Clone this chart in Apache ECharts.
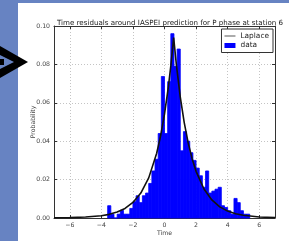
<!DOCTYPE html>
<html>
<head>
<meta charset="utf-8">
<script src="https://cdn.jsdelivr.net/npm/echarts@6/dist/echarts.min.js"></script>
<style>
  html, body { margin: 0; padding: 0; background: #fff; }
  #chart { width: 289px; height: 241px; }
</style>
</head>
<body>
<div id="chart"></div>
<script>
// histogram bins (width 0.2, first bin starts at -3.6)
const binStart = -3.6;
const binWidth = 0.2;
const binValues = [
  0.0064, 0.002, 0.0, 0.002, 0.004, 0.002, 0.002, 0.005, 0.0085, 0.0116,
  0.008, 0.0116, 0.013, 0.018, 0.0245, 0.0306, 0.044, 0.0737, 0.044, 0.071,
  0.096, 0.079, 0.088, 0.035, 0.045, 0.04, 0.034, 0.03, 0.026, 0.022,
  0.016, 0.0245, 0.013, 0.014, 0.015, 0.016, 0.0064, 0.0055, 0.0038, 0.002,
  0.0102, 0.008, 0.0038, 0.002, 0.002
];

// Laplace curve
const curveX = [-7, -6, -5, -4, -3.5, -3, -2.5, -2, -1.5, -1, -0.5, -0.25, 0, 0.25, 0.4, 0.58,
  0.75, 1, 1.25, 1.5, 1.75, 2, 2.5, 3, 3.5, 4, 4.5, 5, 6, 7];
const curveY = [0.0001, 0.0002, 0.0005, 0.0012, 0.0019, 0.0031, 0.005, 0.0081, 0.013, 0.0209, 0.0336, 0.0426, 0.0541, 0.0686, 0.0792, 0.094,
  0.08, 0.063, 0.0497, 0.0391, 0.0309, 0.0243, 0.0151, 0.0094, 0.0058, 0.0036, 0.0022, 0.0014, 0.0005, 0.0002];

const yTicks = [0, 0.02, 0.04, 0.06, 0.08, 0.1];

const chart = echarts.init(document.getElementById('chart'));

const histData = binValues.map((v, i) => [binStart + i * binWidth, binStart + (i + 1) * binWidth, v]);
const lineData = curveX.map((x, i) => [x, curveY[i]]);

const slide = '#6783c2';
const font = 'DejaVu Sans';
const gridLine = {show: true, lineStyle: {color: '#c4c4c4', type: [1, 2], width: 1}};
const frame = {show: true, onZero: false, lineStyle: {color: '#333', width: 1}};
const innerTick = {show: true, inside: true, length: 3, lineStyle: {color: '#333'}};

chart.setOption({
  animation: false,
  backgroundColor: '#fff',
  title: {
    text: 'Time residuals around IASPEI prediction for P phase at station 6',
    left: 165,
    textAlign: 'center',
    top: 15,
    textStyle: {fontFamily: font, fontSize: 7.1, fontWeight: 'normal', color: '#222'}
  },
  legend: {
    orient: 'vertical',
    right: 16,
    top: 29,
    padding: [3, 4, 3, 3],
    itemGap: 1.5,
    itemWidth: 11,
    itemHeight: 5,
    borderColor: '#333',
    borderWidth: 1,
    backgroundColor: '#fff',
    textStyle: {fontFamily: font, fontSize: 7.4, color: '#222', lineHeight: 8},
    data: [
      {name: 'Laplace', icon: 'path://M0,2 L20,2 L20,3.2 L0,3.2 Z', itemStyle: {color: '#000'}},
      {name: 'data', icon: 'rect', itemStyle: {color: '#0000ff'}}
    ]
  },
  grid: {left: 54, right: 14, top: 26, bottom: 22},
  xAxis: [{
    type: 'value',
    min: -7,
    max: 7,
    splitNumber: 7,
    name: 'Time',
    nameLocation: 'middle',
    nameGap: 12,
    nameMoveOverlap: false,
    nameTextStyle: {fontFamily: font, fontSize: 6.2, color: '#444'},
    axisLine: frame,
    axisTick: innerTick,
    axisLabel: {
      fontFamily: font, fontSize: 6.2, color: '#444', margin: 4,
      formatter: v => (Math.abs(v) === 7 ? '' : String(v).replace('-', '\u2212'))
    },
    splitLine: gridLine
  }, {
    type: 'value',
    position: 'top',
    min: -7,
    max: 7,
    splitNumber: 7,
    axisLine: frame,
    axisTick: innerTick,
    axisLabel: {show: false},
    splitLine: {show: false}
  }],
  yAxis: [{
    type: 'value',
    min: yTicks[0],
    max: yTicks[yTicks.length - 1],
    interval: 0.02,
    name: 'Probability',
    nameLocation: 'middle',
    nameGap: 18,
    nameMoveOverlap: false,
    nameTextStyle: {fontFamily: font, fontSize: 6.2, color: '#444'},
    axisLine: frame,
    axisTick: innerTick,
    axisLabel: {fontFamily: font, fontSize: 6.2, color: '#444', margin: 4, formatter: v => v.toFixed(2)},
    splitLine: gridLine
  }, {
    type: 'value',
    position: 'right',
    min: 0,
    max: 0.1,
    interval: 0.02,
    axisLine: frame,
    axisTick: innerTick,
    axisLabel: {show: false},
    splitLine: {show: false}
  }],
  series: [
    {
      name: 'data',
      type: 'custom',
      itemStyle: {color: '#0000ff'},
      encode: {x: [0, 1], y: 2},
      data: histData,
      renderItem: (params, api) => {
        const top = api.coord([api.value(0), api.value(2)]);
        const base = api.coord([api.value(1), 0]);
        return {
          type: 'rect',
          shape: {x: top[0], y: top[1], width: base[0] - top[0], height: base[1] - top[1]},
          style: {fill: '#0000ff', stroke: '#0000ff', lineWidth: 0.8}
        };
      }
    },
    {
      name: 'Laplace',
      type: 'line',
      data: lineData,
      showSymbol: false,
      color: '#000',
      lineStyle: {color: '#111', width: 1.6},
      z: 3
    }
  ],
  graphic: [
    {type: 'rect', left: 0, top: 0, shape: {width: 18, height: 241}, style: {fill: slide}, silent: true},
    {type: 'rect', left: 0, top: 0, shape: {width: 289, height: 3}, style: {fill: slide}, silent: true},
    {type: 'polygon', shape: {points: [[0, 46], [28, 62], [0, 78]]}, style: {fill: '#000'}, silent: true},
    {type: 'polygon', shape: {points: [[0, 55], [14, 62], [0, 69]]}, style: {fill: slide}, silent: true},
    {type: 'rect', shape: {x: 0, y: 59, width: 4, height: 6}, style: {fill: '#000'}, silent: true}
  ]
});
</script>
</body>
</html>
